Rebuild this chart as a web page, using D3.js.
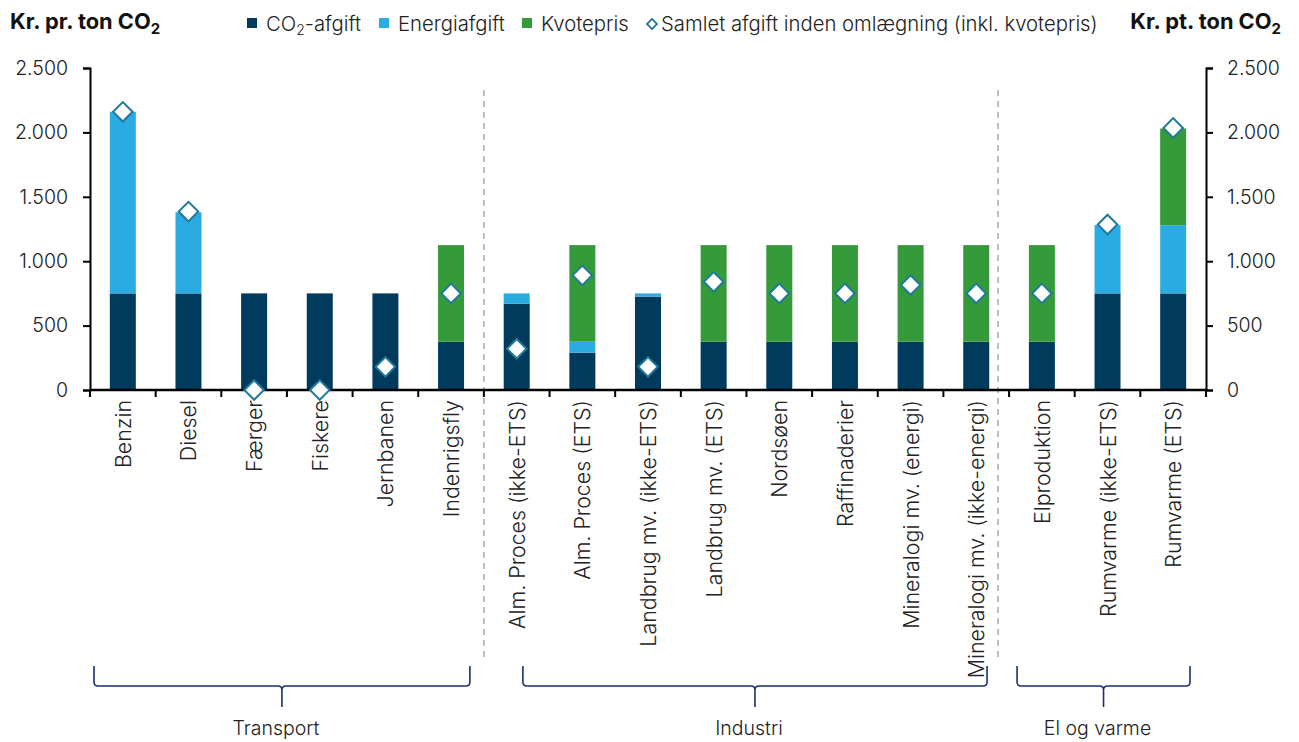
<!DOCTYPE html>
<html><head><meta charset="utf-8">
<script src="https://cdn.jsdelivr.net/npm/d3@7"></script>
<style>
body{margin:0;background:#fff;}
text{font-family:Inter,"Liberation Sans",Arial,sans-serif;fill:#222;font-weight:300;}
text.title{font-weight:700;fill:#111;}
</style></head>
<body><svg id="c" width="1299" height="742"></svg>
<script>
const categories = ["Benzin","Diesel","Færger","Fiskere","Jernbanen","Indenrigsfly",
 "Alm. Proces (ikke-ETS)","Alm. Proces (ETS)","Landbrug mv. (ikke-ETS)","Landbrug mv. (ETS)",
 "Nordsøen","Raffinaderier","Mineralogi mv. (energi)","Mineralogi mv. (ikke-energi)",
 "Elproduktion","Rumvarme (ikke-ETS)","Rumvarme (ETS)"];
const co2Afgift    = [750,750,750,750,750,375, 670,290,725,375,375,375,375,375, 375,750,750];
const energiAfgift = [1410,630,0,0,0,0, 80,85,25,0,0,0,0,0, 0,530,530];
const kvotepris    = [0,0,0,0,0,750, 0,750,0,750,750,750,750,750, 750,0,750];
const samletFoer   = [2160,1385,0,0,180,750, 320,890,180,840,750,750,815,750, 750,1285,2035];
const yTicks = [0,500,1000,1500,2000,2500];
const groups = [
  {name:"Transport", first:"Benzin", last:"Indenrigsfly"},
  {name:"Industri", first:"Alm. Proces (ikke-ETS)", last:"Mineralogi mv. (ikke-energi)"},
  {name:"El og varme", first:"Elproduktion", last:"Rumvarme (ETS)"}
];
const seriesNames = ["CO₂-afgift","Energiafgift","Kvotepris"];
const colors = ["#003a5c","#2aabe2","#349a3a"];

const FS = {legend:20.3, tick:19.5, cat:21.4, group:19.5, title:21.8};

const svg = d3.select("#c");
const L = 90, R = 1206, Y0 = 390, YT = 68;
const x = d3.scaleBand().domain(categories).range([L,R]).paddingInner(0.604).paddingOuter(0.302);
const y = d3.scaleLinear().domain([0,2500]).range([Y0,YT]);
const loc = d3.formatLocale({decimal:",",thousands:".",grouping:[3],currency:["",""]});
const fmt = loc.format(",");

const step = x.step();
const gap = (step - x.bandwidth())/2;
// dashed separators
const sepX = [x("Alm. Proces (ikke-ETS)") - gap, x("Elproduktion") - gap - 11];
sepX.forEach(sx=>{
  svg.append("line").attr("x1",sx).attr("x2",sx).attr("y1",90).attr("y2",657)
    .attr("stroke","#aaaaaa").attr("stroke-width",1.5).attr("stroke-dasharray","6,5");
});

// stacked bars
const data = categories.map((c,i)=>({cat:c, v:[co2Afgift[i],energiAfgift[i],kvotepris[i]]}));
data.forEach(d=>{
  let base = 0;
  d.v.forEach((val,k)=>{
    if(val>0){
      svg.append("rect").attr("x",x(d.cat)).attr("width",x.bandwidth())
        .attr("y",y(base+val)).attr("height",y(base)-y(base+val))
        .attr("fill",colors[k]);
    }
    base += val;
  });
});

// axes
const axL = svg.append("g").attr("transform",`translate(${L},0)`)
  .call(d3.axisLeft(y).tickValues(yTicks).tickFormat(fmt).tickSize(7).tickPadding(15));
const axR = svg.append("g").attr("transform",`translate(${R},0)`)
  .call(d3.axisRight(y).tickValues(yTicks).tickFormat(fmt).tickSize(7).tickPadding(14));
[axL,axR].forEach(a=>{
  a.select(".domain").attr("stroke","#000").attr("stroke-width",2);
  a.selectAll(".tick line").attr("stroke","#000").attr("stroke-width",2);
  a.selectAll(".tick text").attr("font-size",FS.tick).attr("fill","#333")
   .attr("font-family","Inter, Liberation Sans, Arial, sans-serif").attr("font-weight",300);
});
// x axis baseline + boundary ticks
svg.append("line").attr("x1",L).attr("x2",R).attr("y1",Y0).attr("y2",Y0)
  .attr("stroke","#000").attr("stroke-width",2.5);
d3.range(categories.length+1).forEach(k=>{
  const bx = L + k*step;
  svg.append("line").attr("x1",bx).attr("x2",bx).attr("y1",Y0).attr("y2",Y0+7)
    .attr("stroke","#000").attr("stroke-width",2);
});
// category labels
categories.forEach(c=>{
  svg.append("text").attr("transform",`translate(${x(c)+x.bandwidth()/2+8},400) rotate(-90)`)
    .attr("text-anchor","end").attr("font-size",FS.cat).attr("fill","#222").text(c);
});

// diamonds
const diamond = d3.symbol(d3.symbolSquare, 190);
categories.forEach((c,i)=>{
  svg.append("path").attr("d",diamond())
    .attr("transform",`translate(${x(c)+x.bandwidth()/2},${y(samletFoer[i])}) rotate(45)`)
    .attr("fill","#fff").attr("stroke","#1f7a9c").attr("stroke-width",2);
});

// braces
const braceOff = {Transport:[4,-14], Industri:[39,-22], "El og varme":[8,-16]};
groups.forEach(g=>{
  const x1 = x(g.first) - gap + braceOff[g.name][0];
  const x2 = x(g.last) + x.bandwidth() + gap + braceOff[g.name][1];
  const xm = (x1+x2)/2;
  const t = 666, h = 686, tip = 707, r = 4;
  const p = `M${x1},${t} L${x1},${h-r} Q${x1},${h} ${x1+r},${h} L${xm-r},${h} Q${xm},${h} ${xm},${h+r} L${xm},${tip}
             M${xm},${h+r} Q${xm},${h} ${xm+r},${h} L${x2-r},${h} Q${x2},${h} ${x2},${h-r} L${x2},${t}`;
  svg.append("path").attr("d",p).attr("fill","none").attr("stroke","#1a2f6e").attr("stroke-width",1.6);
  svg.append("text").attr("x",xm-6).attr("y",735).attr("text-anchor","middle")
    .attr("font-size",FS.group).text(g.name);
});

// titles
function unitTitle(tx, anchor, label){
  const t = svg.append("text").attr("class","title").attr("x",tx).attr("y",29).attr("text-anchor",anchor)
    .attr("font-size",FS.title);
  t.append("tspan").text(label);
  t.append("tspan").attr("font-size",15).attr("dy",5).text("2");
}
unitTitle(10,"start","Kr. pr. ton CO");
unitTitle(1281,"end","Kr. pt. ton CO");

// legend
const lg = svg.append("g");
const legX = [247,379,522];
seriesNames.forEach((n,k)=>{
  lg.append("rect").attr("x",legX[k]).attr("y",18).attr("width",10).attr("height",10).attr("fill",colors[k]);
  const t = lg.append("text").attr("x",legX[k]+19).attr("y",31).attr("font-size",FS.legend);
  if(k===0){
    t.append("tspan").text("CO");
    t.append("tspan").attr("font-size",14).attr("dy",4).text("2");
    t.append("tspan").attr("dy",-4).text("-afgift");
  } else t.text(n);
});
lg.append("path").attr("d",d3.symbol(d3.symbolSquare,50)())
  .attr("transform","translate(652,24) rotate(45)")
  .attr("fill","#fff").attr("stroke","#1f7a9c").attr("stroke-width",1.8);
lg.append("text").attr("x",661).attr("y",31).attr("font-size",FS.legend)
  .text("Samlet afgift inden omlægning (inkl. kvotepris)");
</script></body></html>
